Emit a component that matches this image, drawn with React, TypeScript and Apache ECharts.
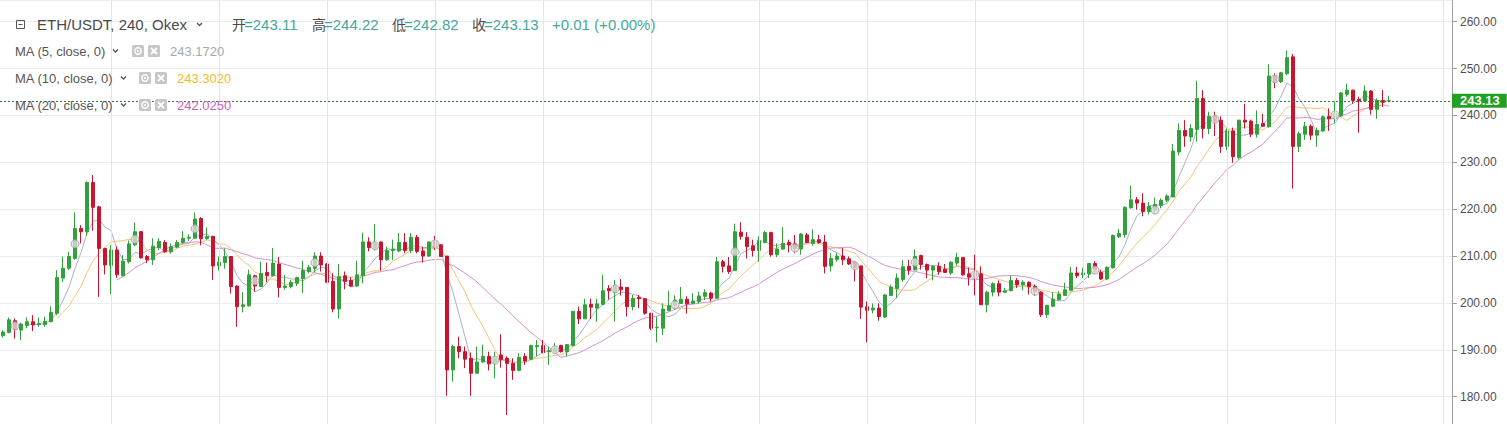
import React, { useEffect, useRef } from 'react';
import * as echarts from 'echarts';

// [open, close, low, high] per 4h candle
const ohlc: [number, number, number, number][] = [
  [193.0, 193.8, 192.6, 194.2], [193.7, 196.4, 193.5, 196.9], [196.2, 194.4, 192.4, 196.7], [194.2, 195.5, 192.1, 195.8],
  [195.2, 196.0, 194.6, 196.9], [196.0, 195.3, 194.0, 197.4], [195.4, 195.6, 194.9, 196.9], [195.4, 196.1, 194.9, 197.1],
  [196.0, 198.0, 195.9, 199.3], [197.8, 205.4, 197.4, 207.0], [205.3, 207.4, 204.5, 209.9], [207.4, 209.9, 207.0, 210.9],
  [209.5, 215.9, 209.2, 219.3], [215.9, 215.2, 212.7, 216.6], [215.2, 225.7, 214.3, 225.9], [225.7, 220.4, 215.4, 227.3],
  [220.5, 211.6, 201.3, 220.7], [211.6, 208.1, 206.1, 211.8], [208.0, 211.3, 201.9, 212.4], [211.3, 206.0, 205.3, 212.1],
  [205.8, 208.9, 205.7, 210.2], [208.8, 212.6, 208.4, 213.3], [212.4, 215.2, 212.1, 217.2], [215.2, 209.6, 209.5, 215.3],
  [209.9, 209.2, 208.5, 210.2], [209.2, 212.1, 208.1, 213.8], [211.8, 213.1, 211.3, 213.8], [212.9, 210.9, 210.7, 213.4],
  [210.9, 212.0, 210.5, 212.7], [211.9, 212.9, 211.7, 213.4], [212.9, 213.8, 212.7, 215.3], [213.8, 214.0, 213.2, 214.6],
  [213.8, 217.9, 213.7, 219.3], [218.0, 213.7, 212.3, 218.3], [213.7, 214.2, 213.5, 216.1], [214.2, 207.9, 204.9, 214.3],
  [207.9, 208.7, 206.9, 209.9], [208.6, 209.9, 207.3, 211.6], [209.9, 203.5, 202.0, 210.0], [203.6, 199.2, 194.9, 203.8],
  [199.2, 199.6, 198.0, 202.3], [199.4, 206.0, 199.2, 207.1], [205.8, 203.6, 202.4, 206.0], [203.5, 206.3, 203.4, 208.8],
  [206.5, 205.8, 204.4, 208.6], [205.8, 208.5, 205.6, 211.7], [208.3, 203.3, 201.2, 209.8], [203.3, 203.6, 202.8, 206.0],
  [203.5, 204.4, 203.1, 204.9], [204.2, 205.4, 203.6, 205.6], [205.2, 206.9, 202.1, 209.0], [206.7, 207.6, 206.3, 208.1],
  [207.4, 210.0, 206.5, 210.8], [210.0, 208.1, 206.7, 210.8], [208.3, 204.4, 204.2, 208.5], [204.6, 198.7, 198.0, 206.3],
  [198.7, 205.6, 196.7, 208.3], [205.8, 204.6, 202.9, 206.7], [204.8, 203.6, 203.4, 205.5], [203.6, 206.0, 203.5, 209.0],
  [205.8, 213.0, 204.2, 215.0], [213.0, 211.8, 211.0, 214.0], [211.7, 212.8, 211.2, 216.8], [213.0, 209.2, 206.9, 213.1],
  [209.2, 211.2, 209.0, 212.0], [211.2, 211.5, 209.2, 213.5], [211.1, 212.9, 210.8, 214.9], [212.9, 211.2, 210.6, 214.9],
  [211.2, 214.0, 210.6, 214.9], [214.0, 211.0, 210.6, 214.5], [211.1, 210.0, 208.6, 212.0], [210.0, 213.0, 209.8, 213.1],
  [213.1, 212.0, 211.3, 214.3], [212.4, 209.9, 209.9, 212.5], [210.0, 185.7, 180.2, 210.0], [185.7, 190.7, 183.2, 191.1],
  [190.7, 189.6, 188.2, 192.8], [189.6, 188.0, 186.1, 190.7], [188.2, 185.0, 180.2, 189.4], [185.0, 187.4, 185.0, 190.7],
  [187.4, 188.6, 187.3, 191.1], [188.6, 187.0, 185.6, 189.6], [187.3, 188.2, 183.9, 189.6], [188.9, 187.9, 186.2, 193.3],
  [188.2, 187.1, 176.1, 188.6], [187.1, 185.6, 183.6, 188.2], [185.6, 188.4, 185.4, 189.3], [188.6, 187.6, 186.8, 189.3],
  [188.0, 190.9, 187.9, 191.1], [190.7, 190.9, 188.6, 192.1], [190.9, 189.4, 189.3, 192.1], [189.6, 189.8, 186.8, 190.7],
  [189.6, 190.3, 189.3, 191.4], [190.9, 189.6, 189.4, 191.1], [189.6, 191.1, 188.6, 191.2], [190.9, 198.2, 190.7, 198.3],
  [198.2, 196.6, 195.5, 199.2], [196.6, 199.6, 196.6, 200.9], [199.7, 199.1, 196.6, 200.9], [198.9, 199.8, 196.0, 200.9],
  [199.7, 202.6, 199.6, 206.0], [203.1, 202.6, 200.7, 203.8], [202.3, 203.6, 196.0, 204.9], [203.4, 202.8, 201.6, 205.1],
  [203.3, 199.2, 197.1, 203.3], [199.2, 201.0, 198.4, 201.7], [201.2, 200.9, 198.9, 201.7], [200.9, 197.8, 197.5, 201.0],
  [197.8, 194.6, 194.2, 197.9], [194.7, 194.8, 191.6, 197.1], [194.6, 198.7, 193.2, 199.9], [198.4, 199.4, 198.2, 202.6],
  [199.5, 200.6, 198.6, 201.6], [199.9, 200.8, 199.9, 203.4], [200.8, 199.8, 197.7, 201.4], [199.9, 200.4, 199.8, 202.1],
  [200.3, 201.5, 199.8, 202.4], [201.4, 202.2, 200.6, 202.9], [202.1, 201.0, 200.3, 202.4], [201.0, 208.8, 200.9, 209.8],
  [208.8, 207.8, 206.5, 209.2], [207.9, 206.7, 206.2, 209.8], [206.9, 215.2, 206.9, 216.9], [215.1, 214.2, 213.5, 217.2],
  [214.0, 212.0, 209.5, 215.1], [212.2, 211.2, 209.9, 213.5], [211.2, 213.3, 208.8, 214.2], [212.9, 215.0, 212.7, 215.4],
  [215.0, 210.3, 209.9, 215.2], [210.3, 211.5, 209.8, 212.7], [211.5, 212.7, 211.3, 216.2], [212.9, 212.4, 210.8, 213.5],
  [212.6, 211.6, 210.6, 214.5], [211.5, 214.7, 210.3, 214.9], [214.5, 212.9, 212.7, 214.9], [212.7, 213.5, 212.2, 215.7],
  [213.5, 212.9, 212.6, 214.5], [213.0, 207.8, 206.3, 214.5], [207.9, 209.5, 206.7, 210.6], [209.3, 210.0, 208.8, 210.6],
  [210.0, 209.2, 208.1, 211.7], [209.4, 208.3, 208.1, 209.9], [208.5, 207.5, 204.6, 208.8], [207.9, 199.1, 196.6, 207.9],
  [199.2, 198.4, 191.6, 200.3], [198.5, 198.9, 197.8, 199.9], [198.9, 197.1, 196.2, 199.9], [197.0, 201.7, 196.8, 201.9],
  [201.6, 203.4, 201.5, 203.9], [203.1, 205.3, 201.0, 206.3], [205.0, 207.7, 204.5, 209.1], [207.8, 207.0, 206.0, 209.2],
  [207.1, 209.9, 206.9, 211.4], [210.1, 208.2, 207.1, 210.3], [208.2, 207.0, 205.3, 208.4], [207.0, 207.8, 204.8, 208.0],
  [207.8, 206.7, 206.0, 208.7], [207.2, 206.5, 206.4, 208.3], [206.4, 208.7, 206.0, 208.9], [208.5, 209.7, 208.0, 210.7],
  [209.7, 206.0, 205.8, 209.7], [206.2, 205.5, 203.7, 207.5], [206.4, 205.6, 201.6, 210.3], [206.2, 199.6, 199.6, 207.8],
  [199.6, 202.3, 198.0, 202.6], [202.3, 204.1, 201.4, 204.4], [204.1, 202.3, 201.4, 204.8], [202.3, 202.6, 202.1, 203.2],
  [202.6, 204.8, 202.5, 205.8], [204.8, 203.9, 203.2, 205.3], [203.9, 204.4, 202.7, 204.8], [204.4, 203.5, 201.8, 204.6],
  [203.5, 202.5, 201.5, 203.9], [202.3, 197.5, 197.0, 202.5], [197.5, 199.5, 196.8, 199.6], [199.3, 200.8, 199.1, 202.3],
  [200.7, 201.9, 200.5, 202.5], [201.6, 202.8, 201.5, 204.3], [202.7, 206.4, 202.5, 207.7], [206.4, 205.8, 205.3, 207.7],
  [206.0, 206.4, 205.3, 207.5], [206.2, 208.4, 205.3, 208.5], [208.4, 207.2, 206.4, 208.9], [206.5, 205.1, 204.9, 207.1],
  [205.1, 207.6, 204.9, 207.8], [207.5, 214.4, 207.3, 214.6], [214.1, 214.8, 213.9, 215.8], [214.6, 220.4, 213.9, 220.6],
  [220.3, 222.0, 220.1, 225.0], [222.0, 221.3, 219.9, 222.6], [221.3, 219.5, 218.5, 223.4], [219.5, 220.6, 218.9, 221.5],
  [219.8, 221.0, 219.0, 222.5], [220.8, 221.9, 220.2, 222.3], [221.9, 222.8, 221.5, 223.2], [222.6, 232.4, 222.6, 233.9],
  [232.2, 236.8, 231.5, 238.3], [236.8, 235.6, 233.3, 239.0], [235.4, 237.2, 234.4, 238.1], [237.0, 243.6, 234.4, 247.4],
  [243.6, 237.2, 235.1, 245.4], [237.2, 239.8, 236.0, 240.8], [239.7, 238.8, 235.6, 240.8], [239.0, 233.4, 232.0, 239.8],
  [233.4, 236.7, 232.6, 237.2], [236.7, 231.2, 229.9, 237.4], [231.0, 239.0, 230.6, 239.1], [239.0, 238.6, 237.2, 242.5],
  [238.8, 236.0, 235.4, 239.1], [236.0, 238.1, 235.3, 241.1], [238.3, 237.7, 237.7, 240.3], [237.6, 248.4, 237.4, 250.9],
  [248.4, 247.2, 245.8, 249.0], [247.2, 249.1, 246.9, 249.3], [248.9, 252.3, 248.6, 253.9], [252.5, 233.4, 224.4, 253.1],
  [233.4, 236.1, 232.2, 236.5], [236.0, 237.7, 234.8, 238.6], [237.7, 235.8, 234.8, 238.1], [235.8, 236.8, 233.3, 237.4],
  [236.7, 239.7, 236.5, 240.0], [239.8, 239.3, 236.7, 241.5], [239.3, 240.3, 238.3, 243.0], [239.9, 244.8, 239.7, 245.0],
  [244.5, 245.4, 244.0, 246.8], [245.4, 243.2, 242.5, 245.5], [243.4, 243.1, 236.3, 244.0], [243.1, 245.2, 242.9, 246.4],
  [245.2, 241.3, 240.2, 245.4], [241.3, 243.2, 239.3, 243.6], [243.2, 242.8, 241.8, 245.4], [243.11, 243.13, 242.82, 244.22],
];

const slotCount = 242; // candle slots incl. empty right margin
const categories = Array.from({ length: slotCount }, (_, i) => String(i));

const markerIdx = [2, 12, 22, 32, 42, 52, 62, 72, 82, 92, 102, 112, 122, 132, 142, 152, 162, 172, 182, 192, 202, 212, 222];
const markerVal = [195.1, 212.6, 213.6, 215.8, 204.7, 208.6, 212.2, 212.6, 187.8, 190.0, 203.0, 199.6, 210.9, 211.7, 207.9, 208.7, 206.0, 202.5, 207.0, 219.8, 239.2, 247.8, 240.1];

const timeGridIdx = [18, 36, 54, 72, 90, 108, 126, 144, 162, 180, 204, 222, 240];

const lastPrice = 243.13;
const headerPair = 'ETH/USDT, 240, Okex';
const headerLabels = ['开', '高', '低', '收'];
const headerValues = ['=243.11', '=244.22', '=242.82', '=243.13'];
const headerChange = '+0.01 (+0.00%)';
const maPeriods = [5, 10, 20];
const maNames = ['MA (5, close, 0)', 'MA (10, close, 0)', 'MA (20, close, 0)'];
const maLegendValues = ['243.1720', '243.3020', '242.0250'];

const UP = '#33a13b';
const DOWN = '#c8142f';
const maLineColors = ['#aab2c8', '#f4c57a', '#d494d4'];
const maTextColors = ['#a8a8a8', '#f0bd2a', '#c264c2'];
const TEAL = '#45a89d';
const FONT = '"Liberation Sans", "Noto Sans CJK SC", sans-serif';

function movingAverage(period: number) {
  const out: (number | string)[] = [];
  for (let i = 0; i < ohlc.length; i++) {
    if (i < period - 1) { out.push('-'); continue; }
    let s = 0;
    for (let j = i - period + 1; j <= i; j++) s += ohlc[j][1];
    out.push(+(s / period).toFixed(3));
  }
  return out;
}

const txt = (s: string, x: number, y: number, fill: string, size: number) => ({
  type: 'text', x, y, silent: true, z: 20,
  style: { text: s, fill, font: `${size}px ${FONT}`, verticalAlign: 'middle', align: 'left' },
});

const chevron = (x: number, y: number) => ({
  type: 'polyline', silent: true, z: 20,
  shape: { points: [[x, y - 1.5], [x + 2.5, y + 1], [x + 5, y - 1.5]] },
  style: { stroke: '#555', lineWidth: 1.3, fill: 'none' },
});

const icons = (x: number, y: number) => [
  { type: 'rect', silent: true, z: 20, shape: { x, y: y - 6, width: 12, height: 12, r: 1.5 }, style: { fill: '#c6c6c6' } },
  { type: 'circle', silent: true, z: 21, shape: { cx: x + 6, cy: y, r: 3.2 }, style: { fill: 'none', stroke: '#fff', lineWidth: 1.4 } },
  { type: 'circle', silent: true, z: 21, shape: { cx: x + 6, cy: y, r: 1.1 }, style: { fill: '#fff' } },
  { type: 'rect', silent: true, z: 20, shape: { x: x + 16, y: y - 6, width: 12, height: 12, r: 1.5 }, style: { fill: '#c6c6c6' } },
  { type: 'line', silent: true, z: 21, shape: { x1: x + 19, y1: y - 3, x2: x + 25, y2: y + 3 }, style: { stroke: '#fff', lineWidth: 1.8 } },
  { type: 'line', silent: true, z: 21, shape: { x1: x + 25, y1: y - 3, x2: x + 19, y2: y + 3 }, style: { stroke: '#fff', lineWidth: 1.8 } },
];

export default function App() {
  const ref = useRef<HTMLDivElement>(null);
  useEffect(() => {
    if (!ref.current) return;
    const chart = echarts.init(ref.current, null, { renderer: 'svg' });

    const hdrY = 24.5;
    const hdrLabelX = [232, 312, 392, 472];
    const hdrValX = [244, 324, 404, 484];
    const maY = [51, 78, 105];
    const maChevX = [113, 121, 121];
    const maIconX = [132, 139, 139];
    const maValX = [170, 177, 177];

    const graphic: any[] = [
      { type: 'rect', silent: true, z: 20, shape: { x: 16.5, y: 20.5, width: 8, height: 8 }, style: { fill: 'none', stroke: '#555', lineWidth: 1 } },
      { type: 'line', silent: true, z: 20, shape: { x1: 18.5, y1: 24.5, x2: 22.5, y2: 24.5 }, style: { stroke: '#555', lineWidth: 1 } },
      txt(headerPair, 37, hdrY, '#4a4a4a', 15),
      chevron(197, hdrY),
      ...headerLabels.map((l, k) => txt(l, hdrLabelX[k], hdrY, '#4a4a4a', 14)),
      ...headerValues.map((v, k) => txt(v, hdrValX[k], hdrY, TEAL, 15)),
      txt(headerChange, 552, hdrY, TEAL, 15),
    ];
    maNames.forEach((n, k) => {
      graphic.push(txt(n, 15, maY[k], '#555', 13));
      graphic.push(chevron(maChevX[k], maY[k]));
      graphic.push(...icons(maIconX[k], maY[k]));
      graphic.push(txt(maLegendValues[k], maValX[k], maY[k], maTextColors[k], 13));
    });

    const yMin = 174.17;
    const yMax = 264.63;

    chart.setOption({
      animation: false,
      backgroundColor: '#ffffff',
      grid: { left: 0, right: 55, top: 0, bottom: 0 },
      xAxis: {
        type: 'category', data: categories, boundaryGap: true,
        axisLine: { show: false }, axisTick: { show: false }, axisLabel: { show: false }, splitLine: { show: false },
      },
      yAxis: {
        type: 'value', position: 'right', min: yMin, max: yMax, splitNumber: 9,
        axisLine: { show: true, lineStyle: { color: '#a0a0a0', width: 1 } },
        axisTick: { show: true, length: 5, lineStyle: { color: '#a0a0a0' } },
        axisLabel: {
          color: '#4f4f4f', fontSize: 12, fontFamily: FONT, margin: 8,
          showMinLabel: false, showMaxLabel: false,
          formatter: (v: number) => v.toFixed(2),
        },
        splitLine: { show: true, lineStyle: { color: '#e9ebed', width: 1 } },
      },
      graphic,
      series: [
        {
          type: 'line', name: 'timegrid', data: [], z: 0, silent: true,
          markLine: {
            silent: true, symbol: ['none', 'none'], label: { show: false },
            lineStyle: { color: '#dbeaee', type: 'solid', width: 1 },
            data: timeGridIdx.map((i) => ({ xAxis: i })),
          },
        },
        ...maPeriods.map((p, k) => ({
          type: 'line', name: `MA${p}`, data: movingAverage(p), symbol: 'none', smooth: false, z: 2, silent: true,
          lineStyle: { color: maLineColors[k], width: 1 },
        })),
        {
          type: 'candlestick', name: 'ETH/USDT', data: ohlc, barWidth: 4, z: 3, silent: true,
          itemStyle: { color: UP, color0: DOWN, borderColor: UP, borderColor0: DOWN, borderWidth: 1 },
          markLine: {
            silent: true, symbol: ['none', 'none'],
            lineStyle: { color: '#3a7a3a', type: [2, 2], width: 1 },
            label: {
              show: true, position: 'end', distance: 0, formatter: lastPrice.toFixed(2),
              backgroundColor: '#22a022', color: '#ffffff', fontSize: 13, fontWeight: 'bold', fontFamily: FONT,
              padding: [1, 7, 0, 8],
            },
            data: [{ yAxis: lastPrice }],
          },
        },
        {
          type: 'scatter', name: 'marks', data: markerIdx.map((i, k) => [i, markerVal[k]]), z: 4, silent: true,
          symbol: 'circle', symbolSize: 8,
          itemStyle: { color: '#dedede', borderColor: '#9c9c9c', borderWidth: 1 },
        },
      ],
    });
    return () => chart.dispose();
  }, []);
  return <div ref={ref} style={{ position: 'fixed', left: 0, top: 0, width: 1507, height: 424, background: '#fff' }} />;
}
